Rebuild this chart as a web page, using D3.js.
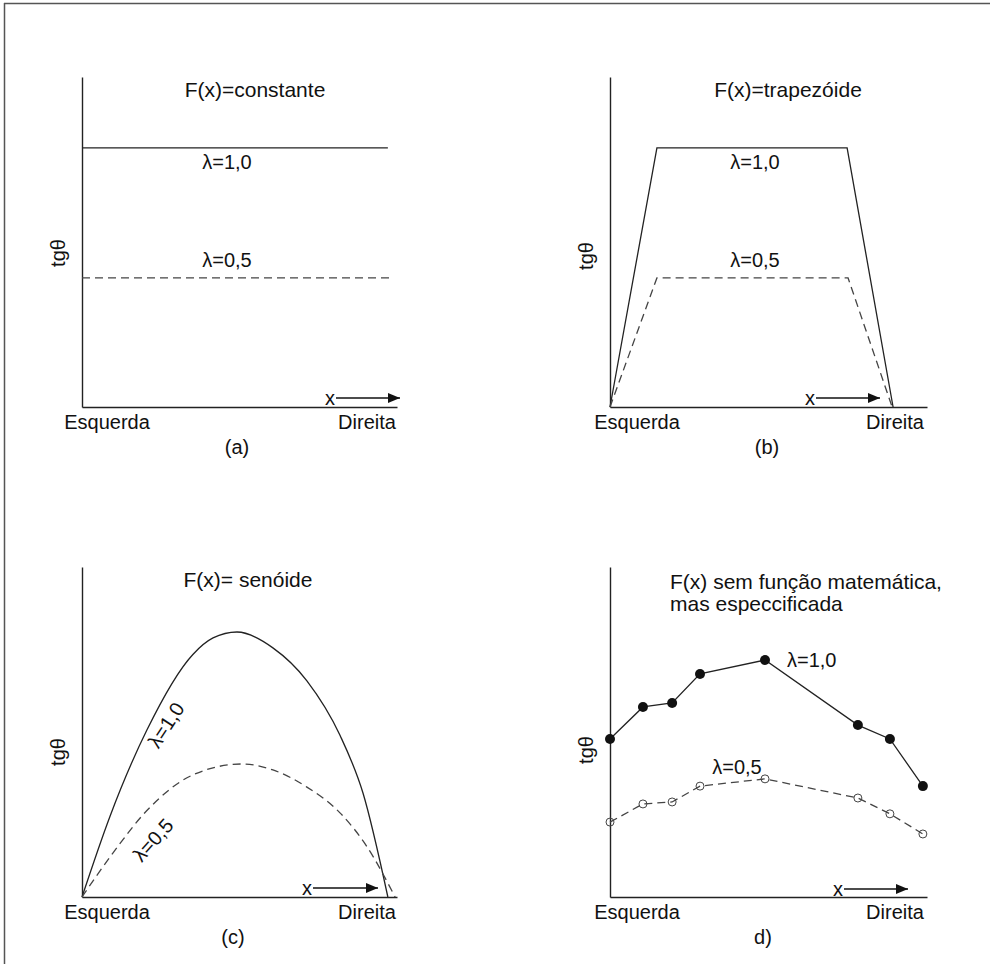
<!DOCTYPE html>
<html>
<head>
<meta charset="utf-8">
<script src="https://cdn.jsdelivr.net/npm/d3@7"></script>
<style>
  html, body { margin: 0; padding: 0; background: #fff; }
  svg { display: block; }
  text { font-family: "Liberation Sans", Arial, sans-serif; fill: #111; }
</style>
</head>
<body>
<svg id="chart" width="990" height="964"></svg>
<script>
// ---------------- DATA ----------------
const endLabels = ["Esquerda", "Direita"];
const yLabel = "tgθ";
const panelTitles = ["F(x)=constante", "F(x)=trapezóide", "F(x)= senóide", ["F(x) sem função matemática,", "mas especcificada"]];
const panelCaptions = ["(a)", "(b)", "(c)", "d)"];
const seriesNames = ["λ=1,0", "λ=0,5"];

// (a) constant
const constX = [0, 0.971];
const constY10 = [0.785, 0.785];
const constX05 = [0, 0.987];
const constY05 = [0.391, 0.391];

// (b) trapezoid
const trapX10 = [0, 0.148, 0.748, 0.893];
const trapY10 = [0, 0.785, 0.785, 0];
const trapX05 = [0, 0.148, 0.751, 0.890];
const trapY05 = [0, 0.391, 0.391, 0];

// (c) sinusoid
const sinX10 = [0, 0.089, 0.206, 0.352, 0.416, 0.492, 0.606, 0.714, 0.819, 0.892, 0.971];
const sinY10 = [0, 0.245, 0.506, 0.735, 0.785, 0.803, 0.755, 0.655, 0.490, 0.315, 0];
const sinX05 = [0, 0.098, 0.206, 0.352, 0.508, 0.606, 0.714, 0.819, 0.905, 0.994];
const sinY05 = [0, 0.133, 0.262, 0.370, 0.403, 0.385, 0.333, 0.255, 0.152, 0];

// (d) specified points
const ptsX = [0, 0.104, 0.196, 0.284, 0.489, 0.782, 0.883, 0.987];
const ptsY10 = [0.479, 0.576, 0.588, 0.676, 0.718, 0.521, 0.479, 0.336];
const ptsY05 = [0.227, 0.282, 0.288, 0.336, 0.358, 0.300, 0.252, 0.191];

// ---------------- DRAW ----------------
const svg = d3.select("#chart");

// frame (top and left edges)
svg.append("line").attr("x1", 4).attr("y1", 3.5).attr("x2", 990).attr("y2", 3.5)
  .attr("stroke", "#555").attr("stroke-width", 1.5);
svg.append("line").attr("x1", 4.5).attr("y1", 3).attr("x2", 4.5).attr("y2", 964)
  .attr("stroke", "#555").attr("stroke-width", 1.5);

svg.append("defs").append("marker")
  .attr("id", "arrow").attr("viewBox", "0 0 12 10").attr("refX", 12).attr("refY", 5)
  .attr("markerWidth", 12).attr("markerHeight", 10).attr("markerUnits", "userSpaceOnUse")
  .attr("orient", "auto")
  .append("path").attr("d", "M0,0L12,5L0,10Z").attr("fill", "#111");

const FS = 20;
const TFS = 21;

function panel(cfg) {
  const x = d3.scaleLinear().domain([0, 1]).range([cfg.x0, cfg.x0 + cfg.w]);
  const y = d3.scaleLinear().domain([0, 1]).range([cfg.y0, cfg.y0 - 330]);
  const g = svg.append("g");

  g.append("g").attr("transform", `translate(0,${cfg.y0})`)
    .call(d3.axisBottom(x).tickValues([]).tickSizeOuter(0));
  g.append("g").attr("transform", `translate(${cfg.x0},0)`)
    .call(d3.axisLeft(y).tickValues([]).tickSizeOuter(0));
  g.selectAll(".domain").attr("stroke", "#222").attr("stroke-width", 1.4);

  // end labels
  g.append("text").attr("x", cfg.x0 + cfg.escOff).attr("y", cfg.y0 + 22)
    .attr("text-anchor", "middle").attr("font-size", FS).text(endLabels[0]);
  g.append("text").attr("x", cfg.x0 + cfg.dirOff).attr("y", cfg.y0 + 22)
    .attr("text-anchor", "middle").attr("font-size", FS).text(endLabels[1]);
  g.append("text").attr("x", cfg.capX).attr("y", cfg.y0 + 47)
    .attr("text-anchor", "middle").attr("font-size", FS).text(cfg.caption);

  // y label
  g.append("text").attr("transform", `translate(${cfg.x0 - 17},${cfg.yLabY}) rotate(-90)`)
    .attr("text-anchor", "middle").attr("font-size", FS).text(yLabel);

  // x arrow
  g.append("text").attr("x", cfg.arrX).attr("y", cfg.arrY + 7)
    .attr("text-anchor", "middle").attr("font-size", FS).text("x");
  g.append("line").attr("x1", cfg.arrX + 6).attr("y1", cfg.arrY)
    .attr("x2", cfg.arrX + cfg.arrLen).attr("y2", cfg.arrY)
    .attr("stroke", "#111").attr("stroke-width", 1.3).attr("marker-end", "url(#arrow)");

  return { g, x, y };
}

function drawLine(p, xs, ys, dashed, curve) {
  const line = d3.line().x(d => p.x(d[0])).y(d => p.y(d[1]));
  if (curve) line.curve(curve);
  p.g.append("path").datum(d3.zip(xs, ys)).attr("d", line)
    .attr("fill", "none").attr("stroke", dashed ? "#444" : "#222")
    .attr("stroke-width", 1.3)
    .attr("stroke-dasharray", dashed ? "8,5" : null);
}

// ---- (a)
const pa = panel({ x0: 82, y0: 407, w: 315, escOff: 25, dirOff: 285, capX: 237, caption: panelCaptions[0],
  yLabY: 253, arrX: 330, arrY: 398, arrLen: 70 });
pa.g.append("text").attr("x", 255).attr("y", 97).attr("text-anchor", "middle").attr("font-size", TFS).text(panelTitles[0]);
drawLine(pa, constX, constY10, false);
drawLine(pa, constX05, constY05, true);
pa.g.append("text").attr("x", 227).attr("y", 169).attr("text-anchor", "middle").attr("font-size", FS).text(seriesNames[0]);
pa.g.append("text").attr("x", 227).attr("y", 267).attr("text-anchor", "middle").attr("font-size", FS).text(seriesNames[1]);

// ---- (b)
const pb = panel({ x0: 610, y0: 407, w: 317, escOff: 27, dirOff: 285, capX: 767, caption: panelCaptions[1],
  yLabY: 256, arrX: 810, arrY: 398, arrLen: 70 });
pb.g.append("text").attr("x", 788).attr("y", 97).attr("text-anchor", "middle").attr("font-size", TFS).text(panelTitles[1]);
drawLine(pb, trapX10, trapY10, false);
drawLine(pb, trapX05, trapY05, true);
pb.g.append("text").attr("x", 755).attr("y", 169).attr("text-anchor", "middle").attr("font-size", FS).text(seriesNames[0]);
pb.g.append("text").attr("x", 755).attr("y", 267).attr("text-anchor", "middle").attr("font-size", FS).text(seriesNames[1]);

// ---- (c)
const pc = panel({ x0: 82, y0: 897, w: 315, escOff: 25, dirOff: 285, capX: 233, caption: panelCaptions[2],
  yLabY: 752, arrX: 307, arrY: 888, arrLen: 71 });
pc.g.append("text").attr("x", 248).attr("y", 587).attr("text-anchor", "middle").attr("font-size", TFS).text(panelTitles[2]);
drawLine(pc, sinX10, sinY10, false, d3.curveMonotoneX);
drawLine(pc, sinX05, sinY05, true, d3.curveMonotoneX);
pc.g.append("text").attr("transform", "translate(166,725) rotate(-57)").attr("dy", "0.35em")
  .attr("text-anchor", "middle").attr("font-size", FS).text(seriesNames[0]);
pc.g.append("text").attr("transform", "translate(153,840) rotate(-48)").attr("dy", "0.35em")
  .attr("text-anchor", "middle").attr("font-size", FS).text(seriesNames[1]);

// ---- (d)
const pd = panel({ x0: 610, y0: 897, w: 317, escOff: 27, dirOff: 285, capX: 763, caption: panelCaptions[3],
  yLabY: 750, arrX: 838, arrY: 889, arrLen: 70 });
pd.g.append("text").attr("x", 670).attr("y", 589).attr("font-size", TFS).text(panelTitles[3][0]);
pd.g.append("text").attr("x", 670).attr("y", 611).attr("font-size", TFS).text(panelTitles[3][1]);
drawLine(pd, ptsX, ptsY10, false);
drawLine(pd, ptsX, ptsY05, true);
pd.g.selectAll("circle.f").data(d3.zip(ptsX, ptsY10)).join("circle").attr("class", "f")
  .attr("cx", d => pd.x(d[0])).attr("cy", d => pd.y(d[1])).attr("r", 5).attr("fill", "#111");
pd.g.selectAll("circle.h").data(d3.zip(ptsX, ptsY05)).join("circle").attr("class", "h")
  .attr("cx", d => pd.x(d[0])).attr("cy", d => pd.y(d[1])).attr("r", 4).attr("fill", "none")
  .attr("stroke", "#444").attr("stroke-width", 1);
pd.g.append("text").attr("x", 787).attr("y", 667).attr("font-size", FS).text(seriesNames[0]);
pd.g.append("text").attr("x", 737).attr("y", 774).attr("text-anchor", "middle").attr("font-size", FS).text(seriesNames[1]);
</script>
</body>
</html>
